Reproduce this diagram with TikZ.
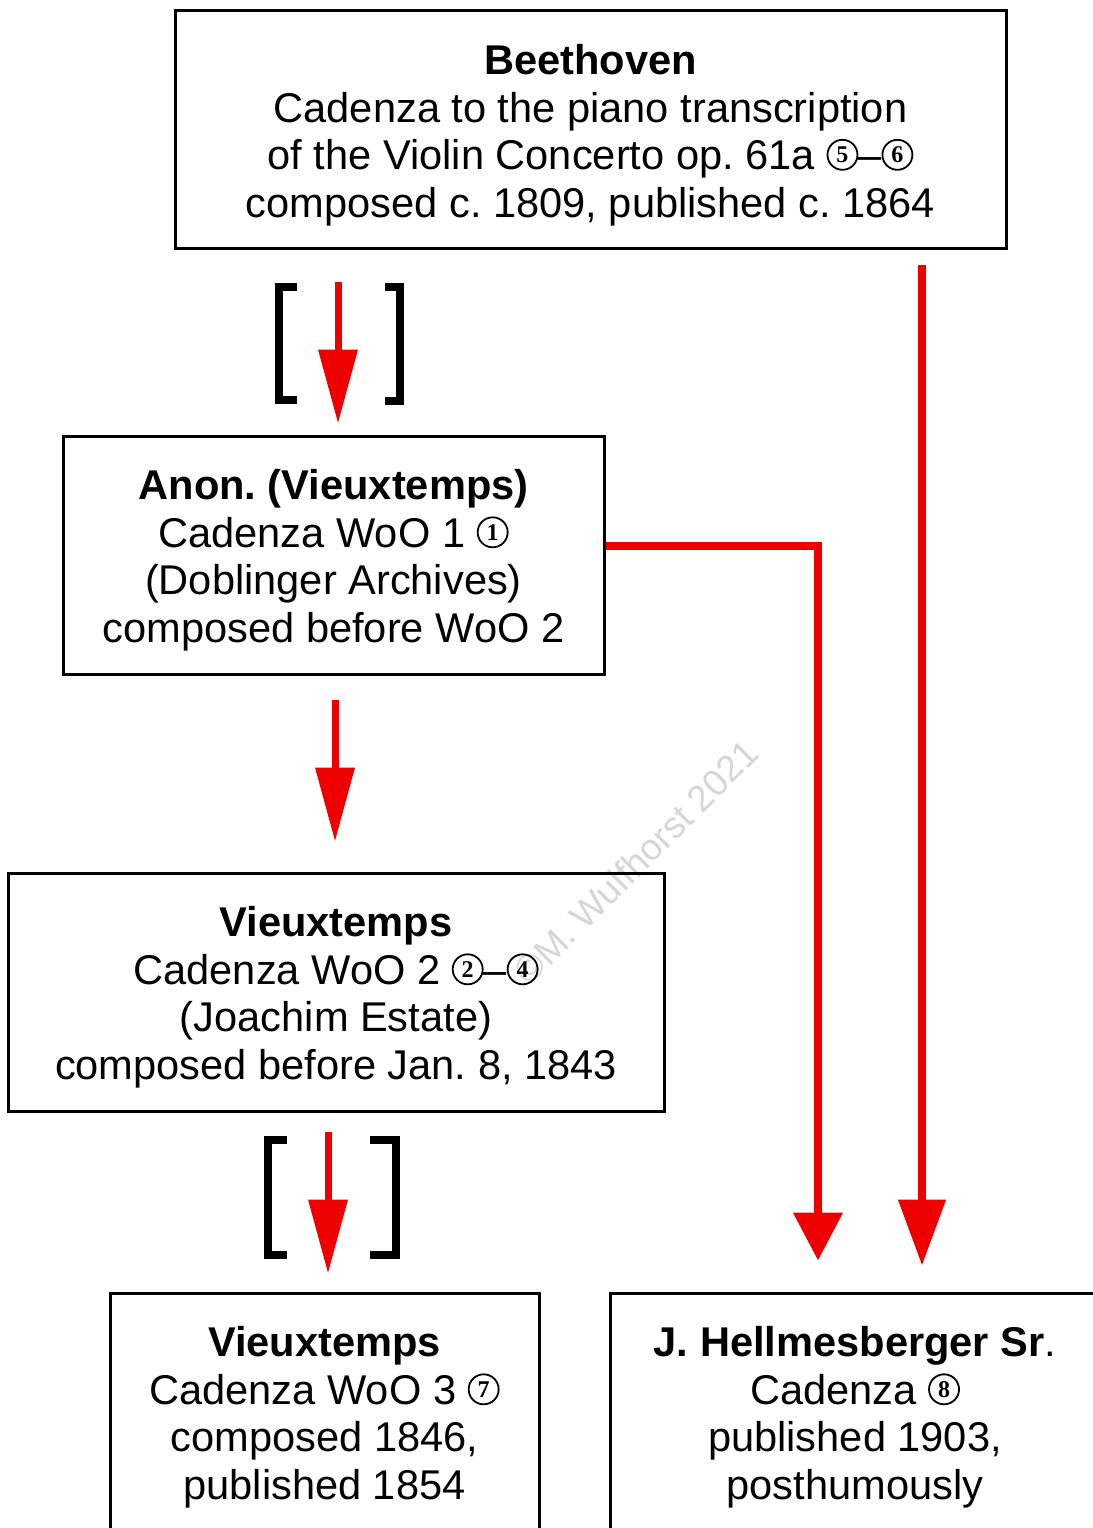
\documentclass[tikz,border=0pt]{standalone}
\usepackage{fontspec}
\setmainfont{Liberation Sans}
\newfontfamily\cnumfam{Liberation Serif}
\usetikzlibrary{arrows.meta,calc}
\frenchspacing
\definecolor{arrowred}{RGB}{238,0,0}
\definecolor{wmgray}{RGB}{214,214,214}
\newcommand{\cnum}[1]{\tikz[baseline={([yshift=0.6pt]cn.south)}]\node[circle,draw,line width=0.9pt,inner sep=0pt,minimum size=15pt,font={\cnumfam\bfseries\fontsize{12pt}{12pt}\selectfont}](cn){#1};}
\tikzset{
  boxshape/.style={draw, line width=1.5pt, inner sep=0pt, minimum height=119pt},
  boxtext/.style={align=center, inner sep=0pt, font={\fontsize{20.8pt}{23.75pt}\selectfont}},
  smallarrow/.style={draw=arrowred, line width=3.5pt, -{Triangle[width=19pt,length=37pt]}},
  longarrowA/.style={draw=arrowred, line width=4pt, -{Triangle[width=24pt,length=24pt]}},
  longarrowB/.style={draw=arrowred, line width=4pt, -{Triangle[width=23pt,length=33pt]}},
  bracket/.style={draw=black, line width=3.6pt, line join=miter, line cap=butt},
  watermark/.style={text=wmgray, rotate=45, font={\fontsize{18.5pt}{18.5pt}\selectfont}}
}
\begin{document}
\begin{tikzpicture}[x=0.5pt,y=-0.5pt]
\useasboundingbox (0,0) rectangle (1093,1528);
\clip (0,0) rectangle (1093,1528);
\fill[white] (0,0) rectangle (1093,1528);

% watermark
\node[watermark] (wm) at (636,862) {©M. Wulfhorst 2021};

% boxes
\node[boxshape, minimum width=415.5pt] (beet) at (590.5,129) {};
\node[boxshape, minimum width=270.5pt] (anon) at (333.5,555) {};
\node[boxshape, minimum width=328pt] (wootwo) at (336,992) {};
\node[boxshape, minimum width=214.5pt] (woothree) at (324.5,1412) {};
\node[boxshape, minimum width=245pt] (hellm) at (855,1412) {};

% box texts
\node[boxtext] (beettext) at ([yshift=-3pt]beet.center)
  {\textbf{Beethoven}\\Cadenza to the piano transcription\\of the Violin Concerto op. 61a \cnum{5}–\cnum{6}\\composed c. 1809, published c. 1864};
\node[boxtext] (anontext) at ([yshift=-2.5pt]anon.center)
  {\textbf{Anon. (Vieuxtemps)}\\Cadenza WoO 1 \cnum{1}\\(Doblinger Archives)\\composed before WoO 2};
\node[boxtext] (wootwotext) at ([yshift=-2.5pt]wootwo.center)
  {\textbf{Vieuxtemps}\\Cadenza WoO 2 \cnum{2}–\cnum{4}\\(Joachim Estate)\\composed before Jan. 8, 1843};
\node[boxtext] (woothreetext) at ([yshift=-2.5pt]woothree.center)
  {\textbf{Vieuxtemps}\\Cadenza WoO 3 \cnum{7}\\composed 1846,\\published 1854};
\node[boxtext] (hellmtext) at ([yshift=-2.5pt]hellm.center)
  {\textbf{J. Hellmesberger Sr}.\\Cadenza \cnum{8}\\published 1903,\\posthumously};

% connector columns
\coordinate (colone) at (338,0);
\coordinate (coltwo) at (335,0);
\coordinate (colthree) at (328,0);
\coordinate (colfour) at (818,0);
\coordinate (colfive) at (922,0);

% arrows
\draw[smallarrow, shorten <=16pt, shorten >=5.5pt] (beet.south -| colone) -- (anon.north -| colone);
\draw[smallarrow, shorten <=12pt, shorten >=15pt] (anon.south -| coltwo) -- (wootwo.north -| coltwo);
\draw[smallarrow, shorten <=9.5pt, shorten >=9pt] (wootwo.south -| colthree) -- (woothree.north -| colthree);
\draw[longarrowA, shorten >=15.5pt] ([yshift=4.5pt]anon.east) -| (hellm.north -| colfour);
\draw[longarrowB, shorten <=7.5pt, shorten >=13pt] (beet.south -| colfive) -- (hellm.north -| colfive);

% brackets
\draw[bracket] (297,287) -- (279,287) -- (279,400) -- (297,400);
\draw[bracket] (385,287) -- (400,287) -- (400,401) -- (385,401);
\draw[bracket] (287,1140) -- (268,1140) -- (268,1255) -- (287,1255);
\draw[bracket] (370,1140) -- (396,1140) -- (396,1255) -- (370,1255);
\end{tikzpicture}
\end{document}
